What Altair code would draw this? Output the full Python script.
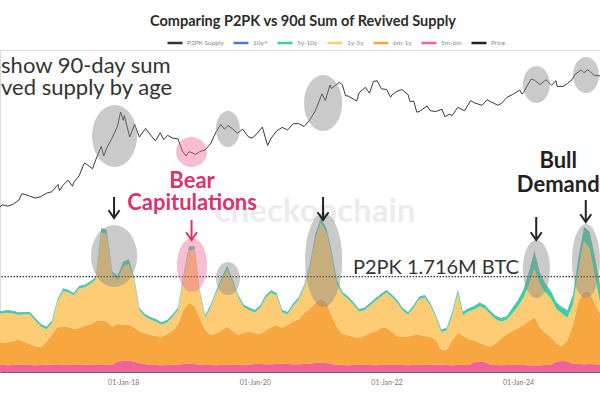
import altair as alt
import pandas as pd

# ---------------- data ----------------
month_starts = pd.date_range("2016-02-01", "2025-04-01", freq="MS").strftime("%Y-%m-%d").tolist()

band_names = ["5m-6m", "6m-1y", "1y-5y", "5y-10y", "10y+"]

# 90-day sum of revived supply by age band, thousand BTC (monthly readings)
rev_5m_6m = [126,130,122,126,135,130,126,120,126,130,135,140,135,130,126,126,130,135,140,140,135,130,
             190,200,205,190,162,144,
             126,126,122,126,130,135,
             144,150,144,
             130,126,126,122,126,130,126,126,130,135,
             144,144,140,140,144,150,144,140,140,144,150,
             162,170,162,144,
             130,126,122,126,126,130,126,122,126,126,130,126,126,122,126,130,126,126,130,135,126,122,126,130,126,
             175,185,180,
             130,126,122,126,130,126,126,122,120,122,126,130,
             190,200,195,
             150,144,140,144,140,135]
rev_6m_1y = [396,396,414,432,450,414,378,342,324,414,
             540,666,684,684,648,666,702,720,774,792,
             774,684,684,648,648,612,576,558,540,522,
             504,558,612,720,972,1098,1044,846,630,540,
             576,630,684,612,540,576,594,558,540,612,
             666,702,648,702,774,810,918,990,1080,1152,
             1098,882,684,558,540,504,486,522,576,612,
             666,666,594,522,504,522,540,540,522,504,
             450,270,270,450,576,522,468,396,342,306,
             324,396,486,558,612,666,720,792,864,684,
             576,504,324,270,378,702,1116,1314,1296,1098,
             918]
rev_1y_5y = [513,531,531,495,441,495,531,459,369,225,
             207,459,639,621,603,711,693,729,747,1584,
             1566,945,783,1053,1089,873,369,297,279,261,
             225,207,243,261,567,945,1017,459,225,495,
             729,891,1035,873,675,459,387,369,477,585,
             621,531,279,189,279,351,459,729,1152,1368,
             1260,1089,765,711,657,585,477,459,495,549,
             567,639,621,603,477,387,495,639,693,567,
             405,315,351,441,711,369,495,549,657,657,
             585,423,297,261,315,387,495,657,873,783,
             729,693,621,585,405,369,567,909,783,522,
             180]
rev_5y_10y = [36,34,38,36,36,34,36,38,36,36,34,36,38,36,36,34,36,38,36,
              54,58,36,72,76,72,54,
              36,34,36,38,36,34,36,36,
              54,58,54,
              36,38,36,34,36,
              54,
              36,34,36,38,36,36,34,36,38,36,36,34,36,38,
              54,58,54,54,72,72,
              36,34,36,38,36,36,34,36,38,36,36,34,36,38,36,36,34,36,38,36,
              54,58,54,50,54,58,54,50,54,58,54,
              90,108,144,198,288,180,144,126,108,108,126,162,198,216,270,324,324]
rev_10y_plus = ([9] * 19 + [18, 18] + [9] * 37 + [18, 18, 18] + [9] * 36 +
                [27, 27, 27] + [9] * 6 + [27, 27, 27, 18, 18])

price_dates = ["2016-02-01","2016-03-01","2016-04-01","2016-05-01","2016-06-01","2016-06-17","2016-07-01",
               "2016-08-01","2016-09-01","2016-10-01","2016-11-01","2016-12-01","2017-01-04","2017-01-12",
               "2017-02-01","2017-03-01","2017-03-25","2017-04-01","2017-05-01","2017-05-25","2017-06-01",
               "2017-07-15","2017-08-01","2017-09-01","2017-09-15","2017-10-01","2017-11-01","2017-12-01",
               "2017-12-17","2018-01-01","2018-01-07","2018-02-06","2018-03-05","2018-04-01","2018-05-05",
               "2018-06-01","2018-06-29","2018-07-25","2018-08-14","2018-09-04","2018-10-01","2018-11-01",
               "2018-11-25","2018-12-15","2019-01-01","2019-02-08","2019-03-01","2019-04-01","2019-05-01",
               "2019-06-01","2019-06-26","2019-07-16","2019-08-06","2019-09-01","2019-09-26","2019-10-26",
               "2019-11-25","2019-12-17","2020-01-01","2020-02-12","2020-03-12","2020-04-01","2020-05-01",
               "2020-06-01","2020-07-01","2020-08-01","2020-09-01","2020-10-01","2020-11-01","2020-12-01",
               "2021-01-08","2021-01-27","2021-02-21","2021-03-01","2021-04-14","2021-05-01","2021-05-19",
               "2021-06-01","2021-07-20","2021-08-01","2021-09-06","2021-09-29","2021-10-20","2021-11-10",
               "2021-12-04","2022-01-01","2022-01-24","2022-02-01","2022-03-01","2022-03-29","2022-05-01",
               "2022-05-12","2022-06-01","2022-06-18","2022-07-01","2022-08-14","2022-09-01","2022-10-01",
               "2022-11-05","2022-11-21","2022-12-15","2023-01-01","2023-02-01","2023-03-10","2023-04-13",
               "2023-05-01","2023-06-15","2023-07-13","2023-08-01","2023-09-11","2023-10-01","2023-11-01",
               "2023-12-01","2024-01-11","2024-01-23","2024-02-01","2024-03-14","2024-04-01","2024-05-01",
               "2024-06-05","2024-07-05","2024-07-29","2024-08-05","2024-09-06","2024-10-01","2024-10-29",
               "2024-11-12","2024-12-17","2025-01-01","2025-01-21","2025-02-01","2025-02-27","2025-03-15",
               "2025-04-01"]
price_usd = [370,435,415,450,530,680,675,
             620,575,610,700,745,1000,780,
             970,1190,930,1080,1420,2200,2400,
             1900,2720,4700,3200,4400,6700,10900,
             19000,13600,16500,6900,11500,6900,9800,
             7500,5900,8200,6200,7400,6600,6400,
             3900,3200,3800,3400,3800,4100,5300,
             8600,11500,9500,11000,9600,8000,9500,
             7000,6600,7200,10300,4900,6600,8800,
             10200,9200,11800,11900,10600,13800,19700,
             40000,30500,57000,49600,63500,57800,37000,
             36700,29800,41500,52000,41000,66000,68000,
             49000,47700,35000,38500,44400,47500,38500,
             29000,29800,19000,19300,24400,20100,19400,
             21300,15800,17300,16600,23100,20000,30400,
             28000,25000,31400,29200,25100,27000,34700,
             38700,46500,39500,42600,73000,69700,58300,
             71000,56600,68200,54000,53900,60800,72700,
             88000,106000,94400,106000,100600,84700,84000,
             82500]

p2pk_supply_k = 1716

legend_domain = ["P2PK Supply", "10y+", "5y-10y", "1y-5y", "6m-1y", "5m-6m", "Price"]
legend_colors = ["#333333", "#4a7bd0", "#3ccf9f", "#fdcc74", "#f7a640", "#ef6399", "#222222"]

chart_title = "Comparing P2PK vs 90d Sum of Revived Supply"

# ---------------- tables ----------------
rows = []
for order, (name, vals) in enumerate(zip(band_names, [rev_5m_6m, rev_6m_1y, rev_1y_5y, rev_5y_10y, rev_10y_plus])):
    for d, v in zip(month_starts, vals):
        rows.append({"date": d, "band": name, "order": order, "value": v})
area_df = pd.DataFrame(rows)
price_df = pd.DataFrame({"date": price_dates, "price": price_usd})

# annotations (in data coordinates)
def ellipse_path(rx, ry):
    r = max(rx, ry)
    a, b = rx / r, ry / r
    return f"M {-a:.3f} 0 A {a:.3f} {b:.3f} 0 1 0 {a:.3f} 0 A {a:.3f} {b:.3f} 0 1 0 {-a:.3f} 0 Z"

GRAY = "#8a8a8a"
PINK = "#ec6f96"
price_ell = pd.DataFrame({
    "date": ["2017-11-14", "2019-01-15", "2019-08-05", "2021-01-14", "2024-04-12", "2025-01-12"],
    "price": [7180, 3750, 9550, 27500, 58300, 85900],
    "rx": [22.5, 15.5, 12, 19, 13.5, 13],
    "ry": [31, 15, 18, 28, 18.5, 18],
    "fill": [GRAY, PINK, GRAY, GRAY, GRAY, GRAY],
})
area_ell = pd.DataFrame({
    "date": ["2017-11-11", "2019-01-18", "2019-08-05", "2021-01-17", "2024-04-12", "2025-01-12"],
    "value": [2088, 1926, 1683, 2016, 1854, 1998],
    "rx": [23, 15, 12, 18.5, 13.5, 14],
    "ry": [31, 27, 16.5, 47, 29, 37],
    "fill": [GRAY, PINK, GRAY, GRAY, GRAY, GRAY],
})
for df in (price_ell, area_ell):
    df["path"] = [ellipse_path(a, b) for a, b in zip(df["rx"], df["ry"])]
    df["size"] = [(2 * max(a, b)) ** 2 for a, b in zip(df["rx"], df["ry"])]

BEAR = "#dc326e"
arrows = pd.DataFrame({
    "date": ["2017-11-11", "2019-01-15", "2021-01-14", "2024-04-11", "2025-01-11"],
    "top": [3150, 2736, 3150, 2790, 3096],
    "tip": [2772, 2376, 2736, 2376, 2700],
    "col": ["#222222", BEAR, "#222222", "#222222", "#222222"],
})
arrows["stem_end"] = arrows["tip"] + 20
arrows["head"] = arrows["tip"] + 70

# ---------------- encodings ----------------
x_scale = alt.Scale(domain=[alt.DateTime(year=2016, month=2, date=17),
                            alt.DateTime(year=2025, month=3, date=31)])
x_axis = alt.Axis(values=[alt.DateTime(year=y, month=1, date=1) for y in (2016, 2018, 2020, 2022, 2024)],
                  format="%d-%b-%y", title=None, grid=False, ticks=False, labelFontSize=7,
                  labelColor="#777777", labelPadding=6, labelFont="Lato", domainColor="#666666",
                  labelFlush=False, labelOverlap=False)
X = alt.X("date:T", scale=x_scale, axis=x_axis)
y_area_scale = alt.Scale(domain=[0, 5796], nice=False, zero=True)
y_price_scale = alt.Scale(type="log", domain=[0.486, 237700], nice=False)

color_scale = alt.Scale(domain=legend_domain, range=legend_colors)
legend = alt.Legend(title=None, orient="none", direction="horizontal", legendX=166, legendY=-16,
                    symbolType="stroke", symbolSize=225, symbolStrokeWidth=2.5, labelFontSize=6.5,
                    labelColor="#888888", labelFont="Lato", columnPadding=4, labelOffset=3)

# ---------------- layers: revived supply ----------------
watermark = alt.Chart(pd.DataFrame({"date": ["2020-12-01"], "value": [2700], "t": ["checkonchain"]})).mark_text(
    font="Lato", fontWeight="bold", fontSize=33, color="#ececec", align="center", baseline="alphabetic"
).encode(x=X, y=alt.Y("value:Q", scale=y_area_scale, axis=None), text="t:N")

areas = alt.Chart(area_df).mark_area(interpolate="linear", clip=True).encode(
    x=X,
    y=alt.Y("value:Q", stack="zero", scale=y_area_scale, axis=None),
    color=alt.Color("band:N", scale=color_scale, legend=legend),
    order=alt.Order("order:Q", sort="ascending"),
)

p2pk = alt.Chart(pd.DataFrame({"date": month_starts[:1]})).mark_rule(
    strokeDash=[1.5, 1.5], strokeWidth=1.2
).encode(y=alt.YDatum(p2pk_supply_k, scale=y_area_scale, axis=None), color=alt.ColorDatum("P2PK Supply"))

area_ellipses = alt.Chart(area_ell).mark_point(filled=True, opacity=0.45, strokeWidth=0).encode(
    x=X, y=alt.Y("value:Q", scale=y_area_scale, axis=None),
    shape=alt.Shape("path:N", scale=None), size=alt.Size("size:Q", scale=None),
    fill=alt.Fill("fill:N", scale=None),
)

arrow_stems = alt.Chart(arrows).mark_rule(strokeWidth=2).encode(
    x=X, y=alt.Y("top:Q", scale=y_area_scale, axis=None), y2="stem_end:Q",
    stroke=alt.Stroke("col:N", scale=None),
)
arrow_heads = alt.Chart(arrows).mark_point(
    shape="M -1 -0.7 L 0 0.7 L 1 -0.7", filled=False, strokeWidth=2, size=121, opacity=1
).encode(
    x=X, y=alt.Y("head:Q", scale=y_area_scale, axis=None), stroke=alt.Stroke("col:N", scale=None),
)

bear_txt = alt.Chart(pd.DataFrame({"date": ["2019-01-18", "2019-01-18"], "value": [3312, 2916],
                                   "t": ["Bear", "Capitulations"]})).mark_text(
    font="Lato", fontWeight="bold", fontSize=22, color=BEAR, align="center", baseline="alphabetic"
).encode(x=X, y=alt.Y("value:Q", scale=y_area_scale, axis=None), text="t:N")

bull_txt = alt.Chart(pd.DataFrame({"date": ["2024-08-11", "2024-08-11"], "value": [3672, 3240],
                                   "t": ["Bull", "Demand"]})).mark_text(
    font="Lato", fontWeight="bold", fontSize=22, color="#222222", align="center", baseline="alphabetic"
).encode(x=X, y=alt.Y("value:Q", scale=y_area_scale, axis=None), text="t:N")

p2pk_txt = alt.Chart(pd.DataFrame({"date": ["2021-06-29"], "value": [1770], "t": ["P2PK 1.716M BTC"]})).mark_text(
    font="Lato", fontSize=20, color="#333333", align="left", baseline="alphabetic"
).encode(x=X, y=alt.Y("value:Q", scale=y_area_scale, axis=None), text="t:N")

caption = alt.Chart(pd.DataFrame({"date": ["2016-02-23", "2016-02-23"], "value": [5382, 4986],
                                  "t": ["show 90-day sum", "ved supply by age"]})).mark_text(
    font="Lato", fontSize=22, color="#333333", align="left", baseline="alphabetic"
).encode(x=X, y=alt.Y("value:Q", scale=y_area_scale, axis=None), text="t:N")

supply_group = alt.layer(watermark, areas, p2pk, area_ellipses, arrow_stems, arrow_heads,
                         bear_txt, bull_txt, p2pk_txt, caption)

# ---------------- layers: price ----------------
price_line = alt.Chart(price_df).mark_line(strokeWidth=0.9, clip=True).encode(
    x=X, y=alt.Y("price:Q", scale=y_price_scale, axis=None), color=alt.ColorDatum("Price"),
)
price_ellipses = alt.Chart(price_ell).mark_point(filled=True, opacity=0.45, strokeWidth=0).encode(
    x=X, y=alt.Y("price:Q", scale=y_price_scale, axis=None),
    shape=alt.Shape("path:N", scale=None), size=alt.Size("size:Q", scale=None),
    fill=alt.Fill("fill:N", scale=None),
)
price_group = alt.layer(price_line, price_ellipses)

# chart heading, placed above the plot area
heading = alt.Chart(pd.DataFrame({"t": [chart_title]})).mark_text(
    font="Lato", fontWeight="bold", fontSize=14.5, color="#2b2b2b", align="center", baseline="alphabetic"
).encode(x=alt.value(303), y=alt.value(-24), text="t:N")

chart = alt.layer(supply_group, price_group, heading).resolve_scale(y="independent").properties(
    width=600, height=322,
    autosize=alt.AutoSizeParams(type="none"),
    padding={"left": 0, "right": 0, "top": 50, "bottom": 28},
).configure_view(stroke=None).configure(background="white")

chart.save("out.html", embed_options={"renderer": "svg", "actions": False})
